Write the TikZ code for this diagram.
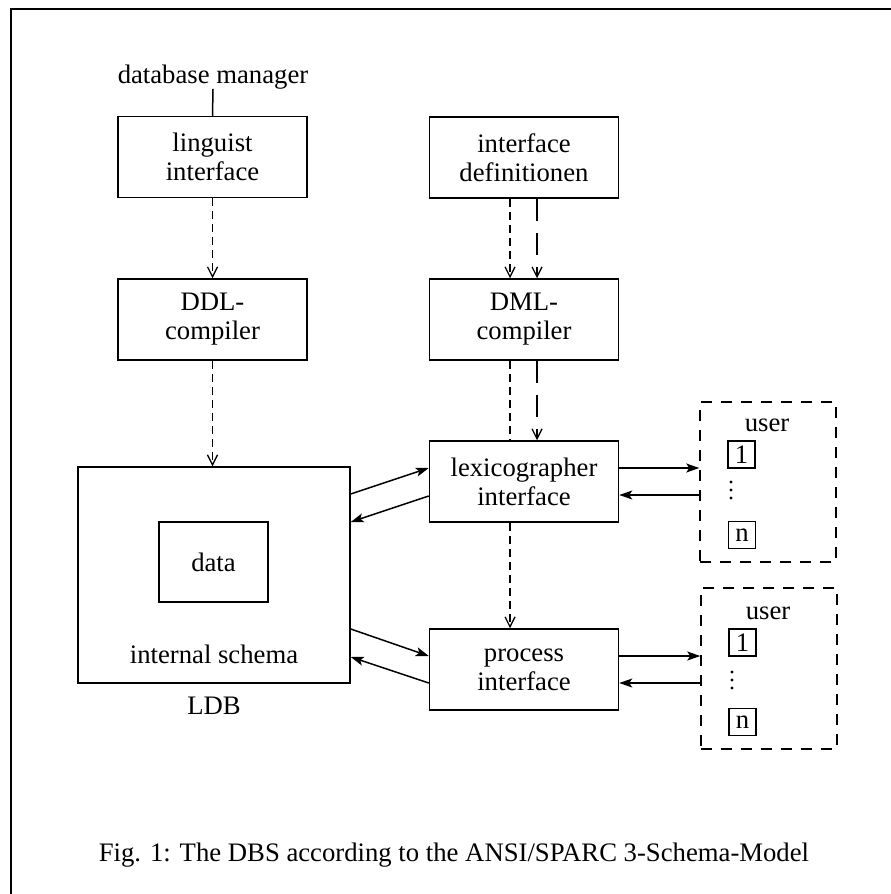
\documentclass[tikz,border=0pt]{standalone}
\usepackage{fontspec}
\setmainfont{Liberation Serif}
\usetikzlibrary{arrows.meta}

\begin{document}
\begin{tikzpicture}[x=1pt,y=-1pt,
  every node/.style={font=\fontsize{26.7}{29}\selectfont, inner sep=0pt},
  box/.style={draw, line width=1.5pt, minimum width=189pt, minimum height=81pt, align=center},
  userbox/.style={draw, line width=1.5pt, dash pattern=on 11pt off 9pt, minimum width=136pt, minimum height=160pt},
  smallbox/.style={draw, line width=1.3pt, minimum width=27pt, minimum height=27pt},
  shortdash/.style={line width=1.4pt, dash pattern=on 8pt off 5pt},
  longdash/.style={line width=1.4pt, dash pattern=on 22pt off 12pt},
  opentip/.style={-{Straight Barb[length=10pt,width=10pt,line width=1.3pt]}},
  solidtip/.style={line width=1.5pt, -{Stealth[length=13pt,width=9pt,inset=3pt]}},
  plain/.style={line width=1.5pt}
]
\useasboundingbox (0,0) rectangle (891,894);

% outer frame (left and top edges)
\draw[line width=1.8pt] (11,894) -- (11,9) -- (891,9);

% left column
\node[anchor=base] (dbm) at (213,83) {database manager};
\node[box] (ling) at (212.5,157) {linguist\\interface};
\node[box] (ddl) at (212.5,319.5) {DDL-\\compiler};

% LDB with internal schema and data
\node[draw, line width=1.5pt, minimum width=272pt, minimum height=216pt] (ldb) at (214,575) {};
\node[draw, line width=1.5pt, minimum width=109pt, minimum height=80pt] (data) at (213.5,562) {data};
\node (schema) at (214,654) {internal schema};
\node (ldblab) at (214,706) {LDB};

% right column
\node[box] (idef) at (524,157.5) {interface\\definitionen};
\node[box] (dml) at (524,319.5) {DML-\\compiler};
\node[box] (lex) at (524,481.5) {lexicographer\\interface};
\node[box] (proc) at (524,669.5) {process\\interface};

% user groups
\node[userbox] (ua) at (768,482) {};
\node (ualab) at (767,425) {user};
\node[smallbox] (ua1) at (741.5,454.5) {1};
\node[smallbox] (uan) at (742,535) {n};
\foreach \yy in {482,490,498} \fill (731,\yy) circle (1.6);

\node[userbox, minimum height=161pt] (ub) at (769,668.5) {};
\node (ublab) at (768,613) {user};
\node[smallbox] (ub1) at (742.5,642.5) {1};
\node[smallbox] (ubn) at (742.5,722) {n};
\foreach \yy in {672,680,688} \fill (732,\yy) circle (1.6);

% connectors
\draw[plain] (dbm.south) -- (ling.north);
\draw[shortdash, opentip] (ling.south) -- (ddl.north);
\draw[shortdash, opentip] (ddl.south) -- (ddl.south |- ldb.north);

\draw[shortdash, opentip] ([xshift=-14pt]idef.south) -- ([xshift=-14pt]dml.north);
\draw[longdash, opentip] ([xshift=13pt]idef.south) -- ([xshift=13pt]dml.north);
\draw[shortdash] ([xshift=-14pt]dml.south) -- ([xshift=-14pt]lex.north);
\draw[longdash, opentip] ([xshift=13pt]dml.south) -- ([xshift=13pt]lex.north);
\draw[shortdash, opentip] ([xshift=-14pt]lex.south) -- ([xshift=-14pt]proc.north);

\draw[solidtip] (ldb.east |- 0,494) -- (lex.west |- 0,468);
\draw[solidtip] (lex.west |- 0,496) -- (ldb.east |- 0,522);
\draw[solidtip] (ldb.east |- 0,629) -- (proc.west |- 0,656);
\draw[solidtip] (proc.west |- 0,683) -- (ldb.east |- 0,657);

\draw[solidtip] (lex.east |- 0,468) -- (ua.west |- 0,468);
\draw[solidtip] (ua.west |- 0,495) -- (lex.east |- 0,495);
\draw[solidtip] (proc.east |- 0,656) -- (ub.west |- 0,656);
\draw[solidtip] (ub.west |- 0,683) -- (proc.east |- 0,683);

% caption
\node[anchor=base] (cap) at (454,861) {Fig. 1: The DBS according to the ANSI/SPARC 3-Schema-Model};
\end{tikzpicture}
\end{document}
